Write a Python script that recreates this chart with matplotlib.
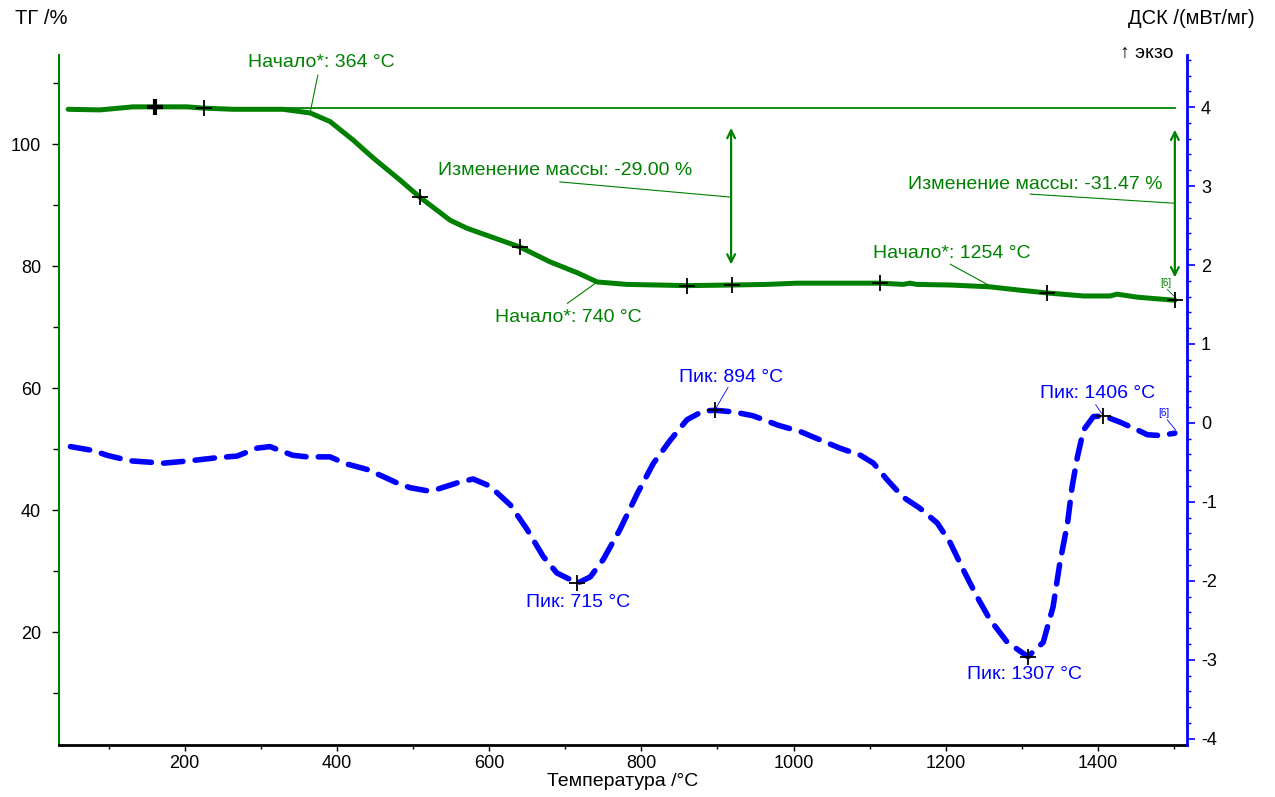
import numpy as np
import matplotlib.pyplot as plt
from matplotlib.ticker import MultipleLocator

plt.rcParams['font.family'] = ['Liberation Sans', 'DejaVu Sans']
plt.rcParams['axes.unicode_minus'] = False
narrow = ['Liberation Sans Narrow', 'Liberation Sans', 'DejaVu Sans']

GREEN = '#008000'
BLUE = '#0000ff'

# TG curve, %
tg_t = [47, 89, 132, 159, 203, 224, 264, 329, 365, 391, 421, 448, 483, 509, 549, 571,
        641, 680, 716, 742, 781, 860, 919, 965, 1005, 1074, 1114, 1144, 1153, 1162,
        1206, 1258, 1294, 1333, 1381, 1416, 1425, 1452, 1501]
tg_v = [105.7, 105.6, 106.1, 106.1, 106.1, 105.9, 105.7, 105.7, 105.1, 103.7, 100.7, 97.7,
        94.1, 91.3, 87.5, 86.2, 83.1, 80.7, 78.9, 77.4, 77.0, 76.8, 76.9, 77.0, 77.2,
        77.2, 77.2, 77.0, 77.2, 77.0, 76.9, 76.6, 76.1, 75.6, 75.1, 75.1, 75.4, 74.9, 74.4]

# DSC curve, mW/mg
dsc_t = [50, 80, 98, 128, 172, 207, 243, 269, 295, 312, 342, 361, 391, 413, 440, 461, 479,
         496, 519, 532, 558, 579, 601, 628, 650, 671, 689, 716, 733, 750, 772, 795, 816,
         838, 860, 881, 897, 921, 947, 980, 1009, 1061, 1088, 1105, 1123, 1144, 1166,
         1189, 1206, 1223, 1241, 1258, 1281, 1308, 1328, 1341, 1350, 1360, 1366, 1373,
         1381, 1394, 1407, 1429, 1452, 1465, 1482, 1501]
dsc_v = [-0.30, -0.35, -0.41, -0.48, -0.51, -0.48, -0.44, -0.42, -0.32, -0.30, -0.41, -0.43,
         -0.43, -0.52, -0.59, -0.68, -0.76, -0.82, -0.86, -0.84, -0.76, -0.71, -0.80, -1.04,
         -1.35, -1.69, -1.90, -2.03, -1.95, -1.73, -1.35, -0.89, -0.51, -0.22, 0.04, 0.15,
         0.16, 0.14, 0.09, -0.03, -0.11, -0.32, -0.41, -0.51, -0.72, -0.94, -1.08, -1.27,
         -1.52, -1.86, -2.20, -2.49, -2.78, -2.96, -2.78, -2.33, -1.77, -1.27, -0.81, -0.43,
         -0.09, 0.08, 0.09, 0.01, -0.09, -0.15, -0.16, -0.13]

tg_marks_t = [226, 509, 641, 860, 919, 1114, 1333, 1501]
tg_marks_v = [105.9, 91.3, 83.1, 76.8, 76.9, 77.2, 75.6, 74.4]
dsc_marks_t = [716, 897, 1308, 1407]
dsc_marks_v = [-2.03, 0.16, -2.96, 0.09]

fig = plt.figure(figsize=(12.75, 7.97), dpi=100)
ax = fig.add_axes([0.0463, 0.0652, 0.8847, 0.8658])
ax2 = ax.twinx()

ax.set_xlim(35, 1517)
ax.set_ylim(1.5, 114.6)
ax2.set_ylim(-4.08, 4.66)

for a in (ax, ax2):
    a.spines['top'].set_visible(False)
    a.patch.set_visible(False)
ax.spines['right'].set_visible(False)
ax2.spines['left'].set_visible(False)
ax2.spines['bottom'].set_visible(False)
ax.spines['left'].set_color(GREEN)
ax.spines['left'].set_linewidth(1.5)
ax.spines['bottom'].set_linewidth(2)
ax2.spines['right'].set_color(BLUE)
ax2.spines['right'].set_linewidth(2)

ax.xaxis.set_major_locator(MultipleLocator(200))
ax.xaxis.set_minor_locator(MultipleLocator(100))
ax.yaxis.set_major_locator(MultipleLocator(20))
ax.yaxis.set_minor_locator(MultipleLocator(10))
ax2.yaxis.set_major_locator(MultipleLocator(1))
ax2.yaxis.set_minor_locator(MultipleLocator(0.2))

ax.tick_params(axis='x', which='major', length=4, width=1, pad=3, labelsize=13)
ax.tick_params(axis='x', which='minor', length=3, width=1)
ax.tick_params(axis='y', which='major', length=5, width=1, pad=8, labelsize=13)
ax.tick_params(axis='y', which='minor', length=4, width=1)
ax2.tick_params(axis='y', which='major', length=6, width=1.2, color=BLUE, pad=4, labelsize=13)
ax2.tick_params(axis='y', which='minor', length=3, width=1, color=BLUE)

# TG curve
ax.plot(tg_t, tg_v, color=GREEN, lw=3.6, solid_capstyle='round', zorder=3)
ax.plot(tg_marks_t, tg_marks_v, '+', color='black', ms=11, mew=1.3, zorder=4)
ax.plot([161], [106.1], '+', color='black', ms=11, mew=3, zorder=4)
ax.plot([161, 1501], [105.9, 105.9], color=GREEN, lw=1.3, zorder=2)

# DSC curve
ax2.plot(dsc_t, dsc_v, color=BLUE, lw=4, linestyle=(0, (3.5, 2.2)),
         dash_capstyle='round', zorder=3)
ax2.plot(dsc_marks_t, dsc_marks_v, '+', color='black', ms=11, mew=1.3, zorder=4)

tfs = 14
# TG annotations
ax.text(283, 113.3, 'Начало*: 364 °C', color=GREEN, fontsize=tfs, family=narrow, va='center')
ax.plot([375, 365], [111.3, 105.2], color=GREEN, lw=0.8)
ax.text(533, 95.7, 'Изменение массы: -29.00 %', color=GREEN, fontsize=tfs, family=narrow, va='center')
ax.plot([693, 918], [93.8, 91.3], color=GREEN, lw=0.8)
ax.annotate('', xy=(918, 103.1), xytext=(918, 79.8),
            arrowprops=dict(arrowstyle='<->', color=GREEN, lw=1.6, mutation_scale=14))
ax.text(1151, 93.4, 'Изменение массы: -31.47 %', color=GREEN, fontsize=tfs, family=narrow, va='center')
ax.plot([1311, 1501], [91.8, 90.3], color=GREEN, lw=0.8)
ax.annotate('', xy=(1501, 102.8), xytext=(1501, 77.7),
            arrowprops=dict(arrowstyle='<->', color=GREEN, lw=1.6, mutation_scale=14))
ax.text(1104, 82.1, 'Начало*: 1254 °C', color=GREEN, fontsize=tfs, family=narrow, va='center')
ax.plot([1206, 1256], [80.3, 76.9], color=GREEN, lw=0.8)
ax.text(608, 71.6, 'Начало*: 740 °C', color=GREEN, fontsize=tfs, family=narrow, va='center')
ax.plot([703, 742], [73.9, 77.4], color=GREEN, lw=0.8)
ax.text(1489, 77.3, '[6]', color=GREEN, fontsize=7, ha='center', va='center')
ax.plot([1491, 1502], [76.2, 74.8], color=GREEN, lw=0.6)

# DSC annotations
ax2.text(717, -2.27, 'Пик: 715 °C', color=BLUE, fontsize=tfs, family=narrow, ha='center', va='center')
ax2.text(849, 0.57, 'Пик: 894 °C', color=BLUE, fontsize=tfs, family=narrow, va='center')
ax2.plot([914, 897], [0.45, 0.17], color=BLUE, lw=0.6)
ax2.text(1228, -3.19, 'Пик: 1307 °C', color=BLUE, fontsize=tfs, family=narrow, va='center')
ax2.text(1324, 0.37, 'Пик: 1406 °C', color=BLUE, fontsize=tfs, family=narrow, va='center')
ax2.plot([1397, 1407], [0.23, 0.09], color=BLUE, lw=0.6)
ax2.text(1486, 0.13, '[6]', color=BLUE, fontsize=7, ha='center', va='center')
ax2.plot([1491, 1502], [0.04, -0.09], color=BLUE, lw=0.6)

# axis titles
fig.text(0.0118, 0.977, 'ТГ /%', fontsize=14.5, va='center')
fig.text(0.984, 0.977, 'ДСК /(мВт/мг)', fontsize=14.5, ha='right', va='center')
fig.text(0.920, 0.9335, '↑ экзо', fontsize=14, ha='right', va='center')
fig.text(0.488, 0.019, 'Температура /°C', fontsize=14, ha='center', va='center')

fig.savefig('out.png', dpi=100)
